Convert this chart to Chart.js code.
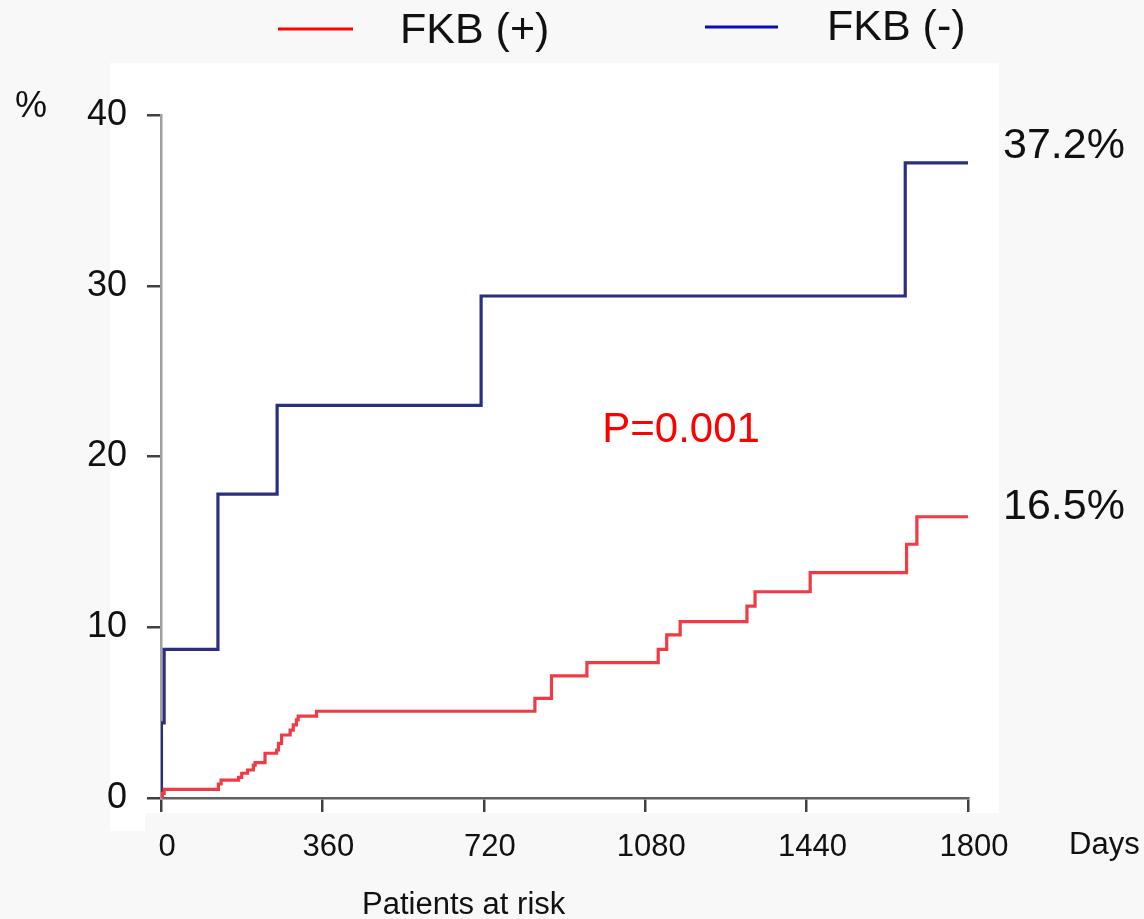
<!DOCTYPE html>
<html>
<head>
<meta charset="utf-8">
<title>Cumulative incidence FKB</title>
<script src="https://cdn.jsdelivr.net/npm/chart.js@4.4.1/dist/chart.umd.min.js"></script>
<style>
  html, body { margin: 0; padding: 0; background: #f8f8f8; }
  #wrap { position: relative; width: 1144px; height: 919px; }
</style>
</head>
<body>
<div id="wrap"><canvas id="chart" width="1144" height="919"></canvas></div>
<script>
// Kaplan-Meier style cumulative incidence (%)
const fkbPosDays = [0, 3, 7, 128, 134, 173, 180, 193, 206, 210, 232, 258, 262, 269, 288, 295, 302, 306, 347, 834, 871, 950, 1109, 1128, 1158, 1307, 1325, 1448, 1663, 1686, 1800];
const fkbPosRisk = [0, 0.27, 0.51, 0.82, 1.05, 1.21, 1.45, 1.64, 1.93, 2.07, 2.62, 2.81, 3.2, 3.69, 3.98, 4.28, 4.57, 4.8, 5.08, 5.84, 7.15, 7.93, 8.7, 9.55, 10.33, 11.24, 12.08, 13.2, 14.86, 16.47, 16.47];

const fkbNegDays = [0, 1, 7, 127, 259, 714, 1660, 1800];
const fkbNegRisk = [0, 4.4, 8.7, 17.8, 23.0, 29.4, 37.2, 37.2];

const seriesLabels = ["FKB (+)", "FKB (-)"];
const endLabels = ["16.5%", "37.2%"];
const pValueText = "P=0.001";
const xTicks = [0, 360, 720, 1080, 1440, 1800];
const yTicks = [0, 10, 20, 30, 40];

const FONT = "'Liberation Sans', Arial, sans-serif";
const COLORS = {
  pos: "#f03a44",
  neg: "#2c2f80",
  legendPos: "#ff0000",
  legendNeg: "#0a0ac0",
  text: "#111111",
};

const toPoints = (xs, ys) => xs.map((x, i) => ({ x, y: ys[i] }));

// Background panel: grey page with white plot box behind the axes
const panelPlugin = {
  id: "panel",
  beforeDraw(chart) {
    const { ctx } = chart;
    ctx.save();
    ctx.fillStyle = "#f8f8f8";
    ctx.fillRect(0, 0, chart.width, chart.height);
    ctx.fillStyle = "#ffffff";
    ctx.fillRect(110, 63, 889, 750);
    ctx.fillRect(110, 813, 35, 18);
    ctx.restore();
  },
};

// Legend, axis captions and annotations
const textPlugin = {
  id: "texts",
  afterDraw(chart) {
    const { ctx, scales } = chart;
    const x = scales.x;
    const y = scales.y;
    ctx.save();
    ctx.textBaseline = "middle";

    // legend
    ctx.lineWidth = 3;
    ctx.strokeStyle = COLORS.legendPos;
    ctx.beginPath(); ctx.moveTo(278, 29); ctx.lineTo(353, 29); ctx.stroke();
    ctx.strokeStyle = COLORS.legendNeg;
    ctx.beginPath(); ctx.moveTo(705, 27); ctx.lineTo(778, 27); ctx.stroke();
    ctx.fillStyle = COLORS.text;
    ctx.font = `43px ${FONT}`;
    ctx.textAlign = "left";
    ctx.fillText(seriesLabels[0], 400, 31);
    ctx.fillText(seriesLabels[1], 827, 28);

    // end-of-curve values
    ctx.fillText(endLabels[1], 1003, y.getPixelForValue(fkbNegRisk[fkbNegRisk.length - 1]) - 17);
    ctx.fillText(endLabels[0], 1003, y.getPixelForValue(fkbPosRisk[fkbPosRisk.length - 1]) - 10);

    // p value
    ctx.fillStyle = COLORS.legendPos;
    ctx.textAlign = "center";
    ctx.font = `42px ${FONT}`;
    ctx.fillText(pValueText, x.getPixelForValue(1160), y.getPixelForValue(21.55));

    // axis captions
    ctx.fillStyle = COLORS.text;
    ctx.font = `36px ${FONT}`;
    ctx.textAlign = "left";
    ctx.fillText("%", 15, 107);
    ctx.font = `31px ${FONT}`;
    ctx.fillText("Days", 1069, 845);
    ctx.fillText("Patients at risk", 362, 905);
    ctx.restore();
  },
};

new Chart(document.getElementById("chart").getContext("2d"), {
  type: "line",
  data: {
    datasets: [
      {
        label: seriesLabels[0],
        data: toPoints(fkbPosDays, fkbPosRisk),
        borderColor: COLORS.pos,
        borderWidth: 3.2,
        stepped: "before",
        pointRadius: 0,
        fill: false,
      },
      {
        label: seriesLabels[1],
        data: toPoints(fkbNegDays, fkbNegRisk),
        borderColor: COLORS.neg,
        borderWidth: 3.2,
        stepped: "before",
        pointRadius: 0,
        fill: false,
      },
    ],
  },
  options: {
    responsive: false,
    animation: false,
    layout: { padding: { left: 0, right: 176, top: 115, bottom: 0 } },
    plugins: { legend: { display: false }, tooltip: { enabled: false } },
    scales: {
      x: {
        type: "linear",
        min: 0,
        max: 1800,
        afterBuildTicks: (scale) => { scale.ticks = xTicks.map((v) => ({ value: v })); },
        afterFit: (scale) => { scale.height = 121; },
        ticks: {
          color: COLORS.text,
          font: { size: 31, family: FONT },
          padding: 17,
          labelOffset: 6,
          maxRotation: 0,
          callback: (value) => String(value),
        },
        grid: { drawOnChartArea: false, drawTicks: true, tickLength: 14, color: "#404040", lineWidth: 2.5 },
        border: { color: "#606060", width: 2.5 },
      },
      y: {
        min: 0,
        max: 40,
        afterBuildTicks: (scale) => { scale.ticks = yTicks.map((v) => ({ value: v })); },
        afterFit: (scale) => { scale.width = 161; },
        ticks: {
          color: COLORS.text,
          font: { size: 36, family: FONT },
          padding: 20,
          callback: (value) => String(value),
        },
        grid: { drawOnChartArea: false, drawTicks: true, tickLength: 14, color: "#404040", lineWidth: 2.5 },
        border: { color: "#a0a0a0", width: 2.5 },
      },
    },
  },
  plugins: [panelPlugin, textPlugin],
});
</script>
</body>
</html>
